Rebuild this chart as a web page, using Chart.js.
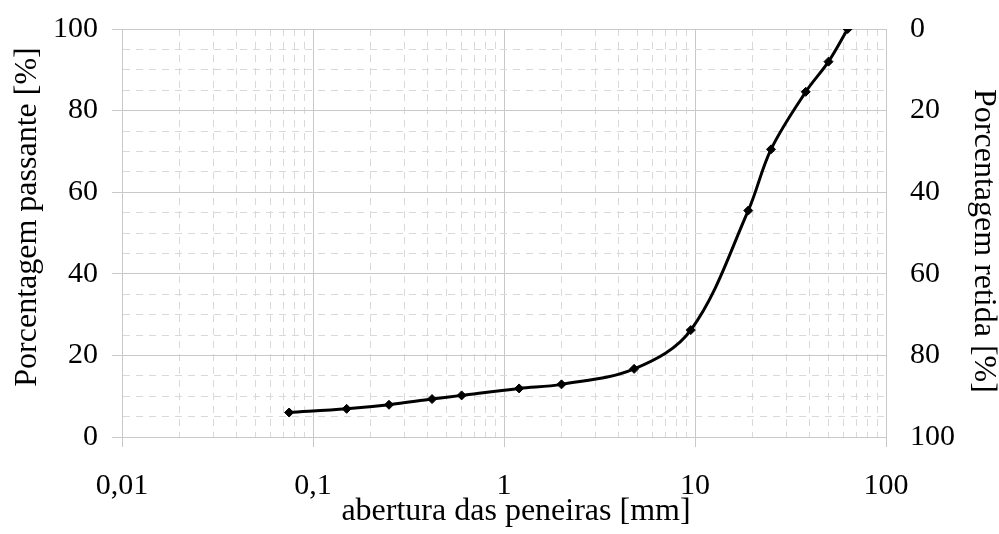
<!DOCTYPE html>
<html lang="pt">
<head>
    <meta charset="UTF-8">
    <title>Curva granulométrica</title>
    <script src="https://cdn.jsdelivr.net/npm/chart.js"></script>
    <style>
        body { margin: 0; background: #fff; }
        #wrap { width: 999px; height: 534px; }
    </style>
</head>
<body>
    <div id="wrap"><canvas id="curva" width="999" height="534"></canvas></div>

    <script>
        // abertura das peneiras [mm] e porcentagem passante [%]
        const aberturas = [0.075, 0.15, 0.25, 0.42, 0.6, 1.2, 2.0, 4.8, 9.5, 19, 25, 38, 50, 63];
        const passante = [6.0, 6.9, 7.9, 9.3, 10.2, 11.9, 12.9, 16.7, 26.2, 55.5, 70.5, 84.6, 92.0, 100];

        // decades shown on the log axis and their labels
        const decadas = [0.01, 0.1, 1, 10, 100];
        const rotulosX = ['0,01', '0,1', '1', '10', '100'];
        const rotulosY = [0, 20, 40, 60, 80, 100];

        const familia = '"Liberation Serif", "Times New Roman", serif';
        const fonteTicks = { family: familia, size: 30 };
        const fonteTitulo = { family: familia, size: 32 };
        const corMaior = '#c9c9c9';
        const corMenor = '#d9d9d9';

        function ehDecada(v) {
            return decadas.some(d => Math.abs(v - d) < d * 1e-6);
        }

        // keep label overhang from pushing the plot area around
        function semSobra(s) {
            s.paddingTop = 0;
            s.paddingBottom = 0;
            s.paddingLeft = 0;
            s.paddingRight = 0;
        }

        const pontos = aberturas.map((x, i) => ({ x: x, y: passante[i] }));

        new Chart(document.getElementById('curva'), {
            type: 'line',
            data: {
                datasets: [{
                    data: pontos,
                    borderColor: '#000',
                    backgroundColor: '#000',
                    borderWidth: 3,
                    tension: 0.35,
                    pointStyle: 'rectRot',
                    pointRadius: 4.5,
                    pointBorderWidth: 1,
                    yAxisID: 'y'
                }]
            },
            options: {
                responsive: false,
                animation: false,
                layout: { padding: { top: 29, left: 0, right: 0, bottom: 0 } },
                plugins: { legend: { display: false }, tooltip: { enabled: false } },
                scales: {
                    x: {
                        type: 'logarithmic',
                        min: 0.01,
                        max: 100,
                        afterBuildTicks: s => {
                            const t = [];
                            for (let e = -2; e < 2; e++) {
                                for (let m = 1; m < 10; m++) t.push({ value: +(m * Math.pow(10, e)).toPrecision(6) });
                            }
                            t.push({ value: 100 });
                            s.ticks = t;
                        },
                        afterFit: s => { s.height = 97; semSobra(s); },
                        ticks: {
                            autoSkip: false,
                            maxRotation: 0,
                            padding: 21,
                            color: '#000',
                            font: fonteTicks,
                            callback: v => {
                                const i = decadas.findIndex(d => Math.abs(v - d) < d * 1e-6);
                                return i >= 0 ? rotulosX[i] : '';
                            }
                        },
                        grid: {
                            color: c => ehDecada(c.tick.value) ? corMaior : corMenor,
                            tickColor: c => ehDecada(c.tick.value) ? corMaior : 'rgba(0,0,0,0)',
                            tickLength: 10,
                            lineWidth: 1
                        },
                        border: {
                            color: corMaior,
                            dash: c => (c.tick && !ehDecada(c.tick.value)) ? [7, 6] : []
                        },
                        title: {
                            display: true,
                            text: '   abertura das peneiras [mm]',
                            color: '#000',
                            font: fonteTitulo,
                            padding: { top: 0, bottom: 3 }
                        }
                    },
                    y: {
                        position: 'left',
                        min: 0,
                        max: 100,
                        afterFit: s => { s.width = 122; semSobra(s); },
                        afterBuildTicks: s => {
                            const t = [];
                            for (let v = 0; v <= 100; v += 5) t.push({ value: v });
                            s.ticks = t;
                        },
                        ticks: {
                            autoSkip: false,
                            padding: 14,
                            color: '#000',
                            font: fonteTicks,
                            callback: v => rotulosY.includes(v) ? String(v) : ''
                        },
                        grid: {
                            color: c => c.tick.value % 20 === 0 ? corMaior : corMenor,
                            tickColor: c => c.tick.value % 20 === 0 ? corMaior : 'rgba(0,0,0,0)',
                            tickLength: 10,
                            lineWidth: 1
                        },
                        border: {
                            color: corMaior,
                            dash: c => (c.tick && c.tick.value % 20 !== 0) ? [7, 6] : []
                        },
                        title: {
                            display: true,
                            text: '    Porcentagem passante [%]',
                            color: '#000',
                            font: fonteTitulo,
                            padding: { top: 8, bottom: 0 }
                        }
                    },
                    y2: {
                        position: 'right',
                        display: true,
                        reverse: true,
                        min: 0,
                        max: 100,
                        afterFit: s => { s.width = 113; semSobra(s); },
                        afterBuildTicks: s => {
                            s.ticks = rotulosY.map(v => ({ value: v }));
                        },
                        ticks: {
                            padding: 24,
                            color: '#000',
                            font: fonteTicks
                        },
                        grid: { drawOnChartArea: false, drawTicks: false, tickLength: 0 },
                        border: { display: false },
                        title: {
                            display: true,
                            text: '  Porcentagem retida [%]',
                            color: '#000',
                            font: fonteTitulo,
                            padding: { top: -4, bottom: 0 }
                        }
                    }
                }
            }
        });
    </script>
</body>
</html>
